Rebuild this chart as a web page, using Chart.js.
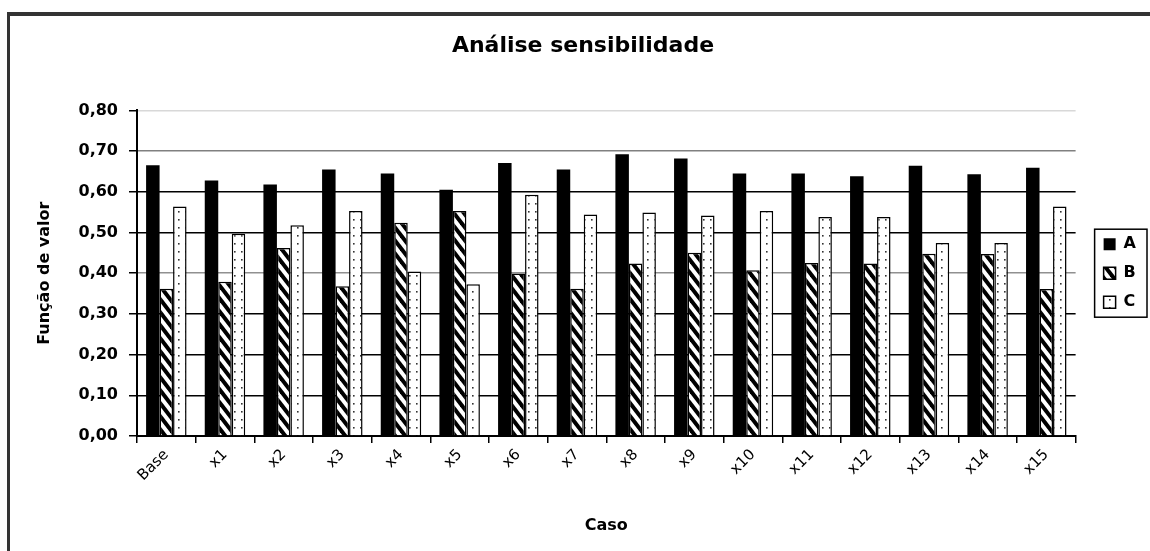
<!DOCTYPE html>
<html><head><meta charset="utf-8">
<script src="https://cdn.jsdelivr.net/npm/chart.js@4.4.1/dist/chart.umd.min.js"></script>
<style>
html,body{margin:0;padding:0;background:#fff;}
#wrap{position:relative;width:1150px;height:551px;overflow:hidden;}
#frame{position:absolute;left:7px;top:12px;width:1200px;height:600px;border-top:4px solid #333;border-left:3px solid #333;}
#c{position:absolute;left:0;top:0;}
</style></head><body>
<div id="wrap"><div id="frame"></div><canvas id="c" width="1150" height="551"></canvas></div>
<script>
const categories = ['Base','x1','x2','x3','x4','x5','x6','x7','x8','x9','x10','x11','x12','x13','x14','x15'];
const seriesA = [0.665,0.628,0.618,0.655,0.645,0.605,0.671,0.655,0.692,0.682,0.645,0.645,0.638,0.664,0.643,0.659];
const seriesB = [0.362,0.379,0.462,0.368,0.524,0.553,0.399,0.362,0.424,0.450,0.407,0.425,0.424,0.448,0.447,0.361];
const seriesC = [0.564,0.497,0.518,0.553,0.404,0.373,0.593,0.544,0.549,0.542,0.553,0.538,0.538,0.474,0.474,0.564];
const yTickLabels = ['0,00','0,10','0,20','0,30','0,40','0,50','0,60','0,70','0,80'];

function makeHatch() {
  const c = document.createElement('canvas');
  const w = 10, h = 13;
  c.width = w; c.height = h;
  const g = c.getContext('2d');
  g.fillStyle = '#fff'; g.fillRect(0, 0, w, h);
  g.strokeStyle = '#000'; g.lineWidth = 4;
  for (const dx of [-w, 0, w]) {
    g.beginPath(); g.moveTo(dx - w, -h); g.lineTo(dx + 2 * w, 2 * h); g.stroke();
  }
  return g.createPattern(c, 'repeat');
}
function makeDots() {
  const c = document.createElement('canvas');
  c.width = 7; c.height = 8;
  const g = c.getContext('2d');
  g.fillStyle = '#fff'; g.fillRect(0, 0, 7, 8);
  g.fillStyle = '#333'; g.fillRect(3, 3, 1.6, 1.6);
  return g.createPattern(c, 'repeat');
}

const FONT = "'DejaVu Sans', Arial, sans-serif";

const gridColor = (ctx) => {
  const v = Math.round((ctx.tick ? ctx.tick.value : 0) * 10);
  if (v === 8) return '#d8d8d8';
  if (v === 7) return '#808080';
  if (v === 4) return '#909090';
  return '#000';
};

const legendPlugin = {
  id: 'legendFrame',
  afterLayout(chart) {
    const lg = chart.legend;
    if (lg) { lg.left += 15; lg.right += 15; }
  },
  afterDraw(chart) {
    const lg = chart.legend;
    if (!lg || !lg.legendHitBoxes || !lg.legendHitBoxes.length) return;
    const hb = lg.legendHitBoxes;
    let l = Infinity, t = Infinity, r = -Infinity, b = -Infinity;
    hb.forEach(h => { l = Math.min(l, h.left); t = Math.min(t, h.top); r = Math.max(r, h.left + h.width); b = Math.max(b, h.top + h.height); });
    const ctx = chart.ctx;
    ctx.save();
    ctx.strokeStyle = '#000'; ctx.lineWidth = 1.5;
    ctx.strokeRect(l - 9, t - 7, (r - l) + 20, (b - t) + 14);
    ctx.restore();
  }
};

new Chart(document.getElementById('c'), {
  type: 'bar',
  data: {
    labels: categories,
    datasets: [
      { label: 'A', data: seriesA, backgroundColor: '#000', borderColor: '#000', borderWidth: 0 },
      { label: 'B', data: seriesB, backgroundColor: makeHatch(), borderColor: '#000', borderWidth: 1.5 },
      { label: 'C', data: seriesC, backgroundColor: makeDots(), borderColor: '#000', borderWidth: 1.5 }
    ]
  },
  options: {
    responsive: false,
    animation: false,
    devicePixelRatio: 1,
    layout: { padding: { top: 20, left: 35, right: 19, bottom: 12 } },
    datasets: { bar: { categoryPercentage: 0.69, barPercentage: 1.0 } },
    plugins: {
      title: { display: true, text: 'Análise sensibilidade', color: '#000',
        font: { family: FONT, size: 22, weight: 'bold' }, padding: { top: 13, bottom: 51 } },
      legend: { position: 'right', fullSize: false,
        labels: { color: '#000', boxWidth: 12, boxHeight: 12, padding: 13,
          font: { family: FONT, size: 16, weight: 'bold' } } },
      tooltip: { enabled: false }
    },
    scales: {
      x: {
        offset: true,
        afterFit: (s) => { s.height = 103; },
        grid: { display: true, drawOnChartArea: false, drawTicks: true, tickLength: 7, color: '#000', lineWidth: 1.5 },
        border: { display: true, color: '#000', width: 2 },
        ticks: { color: '#000', minRotation: 45, maxRotation: 45, autoSkip: false, padding: 3,
          font: { family: FONT, size: 15 } },
        title: { display: true, text: 'Caso', color: '#000', padding: { top: 0, bottom: 4 },
          font: { family: FONT, size: 16, weight: 'bold' } }
      },
      y: {
        min: 0, max: 0.8,
        afterFit: (s) => { s.width = 102; },
        grid: { color: gridColor, lineWidth: 1.5, tickLength: 8, tickColor: '#000', tickWidth: 1.5 },
        border: { display: true, color: '#000', width: 2 },
        ticks: { stepSize: 0.1, color: '#000', padding: 11,
          font: { family: FONT, size: 16, weight: 'bold' },
          callback: (v, i) => yTickLabels[Math.round(v * 10)] },
        title: { display: true, text: 'Função de valor', color: '#000', padding: { top: 0, bottom: 0 },
          font: { family: FONT, size: 16, weight: 'bold' } }
      }
    }
  },
  plugins: [legendPlugin]
});
</script>
</body></html>
